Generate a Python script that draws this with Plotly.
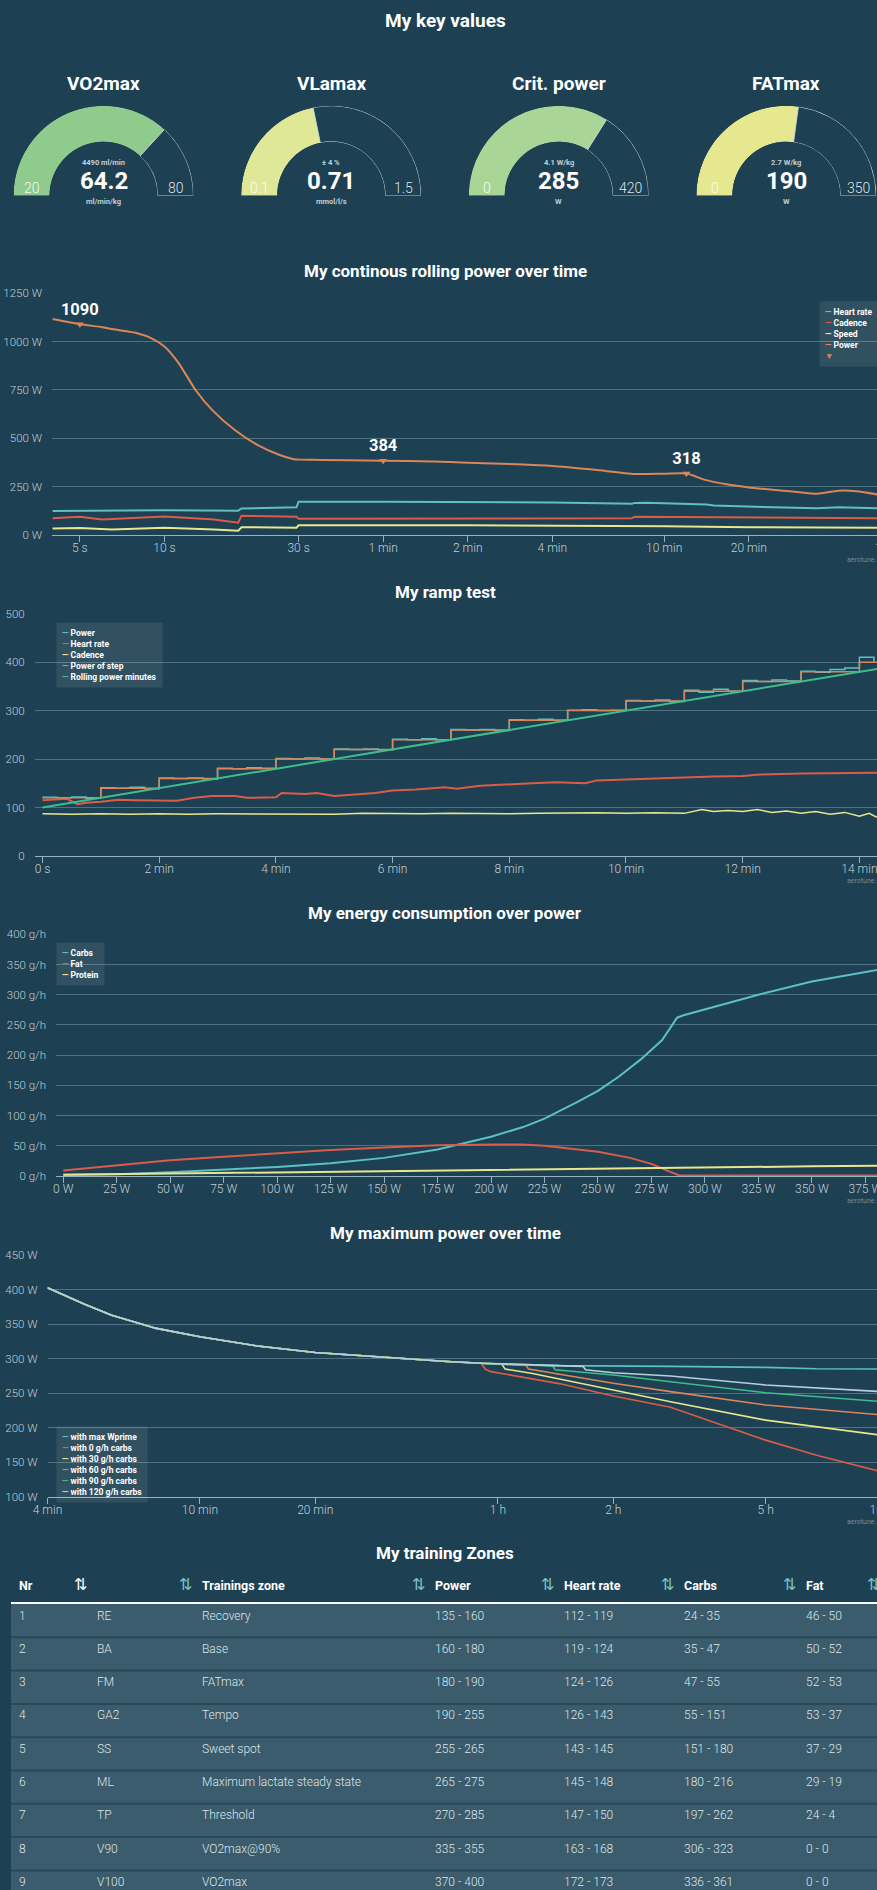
import math
import plotly.graph_objects as go

# ---------------- data ----------------
g_titles = ['VO2max', 'VLamax', 'Crit. power', 'FATmax']
g_values = [64.2, 0.71, 285, 190]
g_value_text = ['64.2', '0.71', '285', '190']
g_min = [20, 0.1, 0, 0]
g_max = [80, 1.5, 420, 350]
g_sub_top = ['4490 ml/min', '± 4 %', '4.1 W/kg', '2.7 W/kg']
g_units = ['ml/min/kg', 'mmol/l/s', 'W', 'W']

roll_pow_t = [4, 5, 6, 7, 8, 9, 10, 11.25, 12.9, 14.8, 17.8, 21.4, 25.7, 29.2, 30, 45,
              60, 90, 120, 180, 240, 340, 470, 600, 720, 840, 1000, 1200, 1600, 2100, 2500, 2900, 3600]
roll_pow_v = [1117, 1090, 1075, 1058, 1043, 1017, 975, 888, 750, 646, 543, 466, 414, 391, 390, 387,
              384, 380, 374, 366, 357, 337, 316, 317, 318, 285, 262, 246, 229, 213, 229, 226, 205]
roll_hr_t = [4, 10, 18.3, 18.8, 29.5, 30, 60, 120, 240, 460, 470, 520, 700, 800, 850, 900, 1200, 2100, 2500, 3600]
roll_hr_v = [124, 128, 126, 137, 143, 172, 172, 171, 168, 161, 165, 167, 163, 161, 158, 152, 147, 138, 143, 138]
roll_cad_t = [4, 5, 6, 8, 10, 15, 18.3, 18.8, 29.5, 30, 460, 470, 650, 1200, 3600]
roll_cad_v = [86, 94, 80, 88, 96, 80, 64, 100, 95, 84, 86, 95, 93, 90, 86]
roll_spd_t = [4, 5, 6.5, 10, 15, 18.3, 18.8, 29.5, 30, 120, 600, 1200, 3600]
roll_spd_v = [34, 36, 29, 38, 29, 22, 40, 38, 50, 50, 45, 40, 38]
peak_t = [5, 60, 720]
peak_v = [1090, 384, 318]
roll_tickvals = [5, 10, 30, 60, 120, 240, 600, 1200, 3600]
roll_ticktext = ['5 s', '10 s', '30 s', '1 min', '2 min', '4 min', '10 min', '20 min', '1 h']

ramp_pow_t = list(range(0, 870, 15))
ramp_pow_v = [121, 120, 122, 119, 141, 140, 142, 139, 161, 160, 161, 159, 181, 180, 182, 181,
              201, 200, 202, 200, 221, 220, 221, 219, 241, 240, 242, 240, 261, 260, 261, 259,
              281, 280, 282, 280, 301, 302, 300, 301, 321, 320, 322, 319, 342, 338, 344, 340,
              362, 360, 363, 361, 381, 379, 385, 388, 410, 401]
ramp_step_t = [0, 60, 120, 180, 240, 300, 360, 420, 480, 540, 600, 660, 720, 780, 840, 870]
ramp_step_v = [120, 140, 160, 180, 200, 220, 240, 260, 280, 300, 320, 340, 360, 380, 400, 400]
ramp_roll_t = [0, 870]
ramp_roll_v = [100, 390]
ramp_hr_t = [0, 25, 36, 45, 60, 78, 96, 120, 138, 156, 174, 198, 210, 240, 246, 270, 282, 300, 318, 342,
             360, 384, 414, 426, 450, 480, 504, 528, 552, 558, 570, 600, 630, 660, 690, 720, 738, 780, 810, 840, 870]
ramp_hr_v = [115, 118, 107, 110, 112, 116, 115, 114, 114, 120, 124, 124, 120, 121, 130, 128, 130, 124, 127, 130,
             135, 137, 142, 139, 145, 147, 150, 152, 150, 150, 156, 158, 161, 162, 164, 165, 168, 170, 171, 172, 172]
ramp_cad_t = [0, 30, 60, 90, 120, 150, 180, 210, 240, 270, 300, 330, 360, 390, 420, 450, 480, 510, 540, 570,
              600, 630, 660, 678, 690, 705, 720, 735, 750, 765, 780, 795, 810, 825, 840, 850, 858]
ramp_cad_v = [87, 86, 87, 86, 87, 86, 87, 87, 86, 87, 86, 88, 87, 87, 88, 87, 87, 88, 89, 89,
              88, 89, 88, 96, 92, 94, 92, 96, 90, 93, 88, 92, 86, 90, 82, 88, 80]
ramp_tickvals = [0, 120, 240, 360, 480, 600, 720, 840]
ramp_ticktext = ['0 s', '2 min', '4 min', '6 min', '8 min', '10 min', '12 min', '14 min']

en_w = [0, 25, 50, 75, 100, 125, 150, 175, 190, 200, 215, 225, 240, 250, 260, 270, 280, 287, 290, 300, 325, 350, 375, 390]
en_carbs = [2, 3, 6, 10, 15, 21, 30, 44, 56, 65, 81, 95, 122, 141, 165, 193, 225, 262, 266, 276, 300, 322, 338, 347]
fat_w = [0, 25, 50, 75, 100, 125, 150, 175, 200, 215, 225, 250, 265, 275, 283, 288, 300, 390]
en_fat = [9, 18, 26, 32, 38, 43, 47, 51, 52, 52, 50, 40, 30, 20, 8, 1, 1, 1]
prot_w = [0, 50, 100, 150, 200, 250, 300, 350, 390]
en_prot = [2, 4, 6, 8, 10, 13, 15, 16, 17]

mp_common_t = [240, 300, 353, 462, 600, 848, 1200, 1894, 2652, 3253]
mp_common_v = [403, 379, 363, 344, 332, 318.5, 309, 301, 296, 293.4]
mp_wprime_t = [3600, 5203, 10160, 18000, 24450, 40000]
mp_wprime_v = [292.6, 290, 289, 287.5, 285.5, 285]
mp_c0_t = [3340, 3450, 5203, 7200, 10160, 18000, 24450, 40000]
mp_c0_v = [284.7, 281.3, 264, 246, 229.6, 182, 160, 130]
mp_c30_t = [3600, 3686, 3760, 4399, 7200, 10160, 18000, 40000]
mp_c30_v = [292.6, 292, 285, 279, 254.7, 237.8, 211, 186]
mp_c60_t = [3600, 4260, 4330, 7200, 10160, 18000, 40000]
mp_c60_v = [292.6, 290.5, 285, 264.4, 252.3, 233, 216.5]
mp_c90_t = [3600, 5000, 5080, 7200, 10160, 18000, 40000]
mp_c90_v = [292.6, 289.7, 284, 276.5, 266.7, 250.8, 236]
mp_c120_t = [3600, 6000, 6100, 7200, 10160, 18000, 40000]
mp_c120_v = [292.6, 289, 284, 279.8, 275, 262, 251]
mp_names = ['with max Wprime', 'with 0 g/h carbs', 'with 30 g/h carbs', 'with 60 g/h carbs',
            'with 90 g/h carbs', 'with 120 g/h carbs']
mp_tickvals = [240, 600, 1200, 3600, 7200, 18000, 36000]
mp_ticktext = ['4 min', '10 min', '20 min', '1 h', '2 h', '5 h', '10 h']

tbl_nr = ['1', '2', '3', '4', '5', '6', '7', '8', '9']
tbl_abbr = ['RE', 'BA', 'FM', 'GA2', 'SS', 'ML', 'TP', 'V90', 'V100']
tbl_zone = ['Recovery', 'Base', 'FATmax', 'Tempo', 'Sweet spot', 'Maximum lactate steady state',
            'Threshold', 'VO2max@90%', 'VO2max']
tbl_power = ['135 - 160', '160 - 180', '180 - 190', '190 - 255', '255 - 265', '265 - 275', '270 - 285', '335 - 355', '370 - 400']
tbl_hr = ['112 - 119', '119 - 124', '124 - 126', '126 - 143', '143 - 145', '145 - 148', '147 - 150', '163 - 168', '172 - 173']
tbl_carbs = ['24 - 35', '35 - 47', '47 - 55', '55 - 151', '151 - 180', '180 - 216', '197 - 262', '306 - 323', '336 - 361']
tbl_fat = ['46 - 50', '50 - 52', '52 - 53', '53 - 37', '37 - 29', '29 - 19', '24 - 4', '0 - 0', '0 - 0']
tbl_headers = ['Nr', '', 'Trainings zone', 'Power', 'Heart rate', 'Carbs', 'Fat']

# ---------------- style ----------------
# the dashboard is wider/taller than the browser window; the window crops it like the reference
W, H = 900, 1905
BG = '#1d4052'
GRID = '#4e7282'
AXIS = '#94b2c0'
TICK = '#c3cfd5'
TEAL = '#5cc0c7'
RED = '#d95d47'
YEL = '#e8e68e'
ORG = '#dc8559'
GRN = '#3dbd8c'
LIGHT = '#b7d0db'
FONT = 'Roboto, sans-serif'
g_colors = ['#8fcb8c', '#dfe896', '#a9d697', '#e6e88f']
g_cx = [103.5, 331.1, 558.7, 786.3]


def fx(p):
    return p / W


def fy(p):
    return 1 - p / H


fig = go.Figure()
ann = []


def text(x, y, s, size, color='white', bold=False, xanchor='center', yanchor='middle', weight=None, **kw):
    f = dict(size=size, color=color, family=FONT)
    if weight:
        f['weight'] = weight
    ann.append(dict(x=fx(x), y=fy(y), xref='paper', yref='paper', showarrow=False,
                    text=('<b>%s</b>' % s) if bold else s, xanchor=xanchor, yanchor=yanchor,
                    font=f, **kw))


# ---------------- gauges ----------------
text(445, 20, 'My key values', 19, bold=True)
R, BASE = 90, 195.7
for i in range(4):
    n = '' if i == 0 else str(i + 1)
    frac = (g_values[i] - g_min[i]) / (g_max[i] - g_min[i])
    ang = frac * 180
    fig.add_trace(go.Barpolar(r=[1], theta=[ang / 2], width=[ang],
                              marker=dict(color=g_colors[i], line=dict(width=0)),
                              subplot='polar' + n, hoverinfo='skip'))
    fig.add_trace(go.Barpolar(r=[1], theta=[(ang + 180) / 2], width=[180 - ang],
                              marker=dict(color='rgba(0,0,0,0)', line=dict(color='#c6d3da', width=1)),
                              subplot='polar' + n, hoverinfo='skip'))
    cx = g_cx[i]
    fig.update_layout(**{'polar' + n: dict(
        domain=dict(x=[fx(cx - R), fx(cx + R)], y=[fy(BASE), fy(BASE - R)]),
        sector=[0, 180], hole=0.6, bgcolor='rgba(0,0,0,0)',
        radialaxis=dict(visible=False, range=[0, 1]),
        angularaxis=dict(visible=False, rotation=180, direction='clockwise'))})
    text(cx, 83, g_titles[i], 19, bold=True)
    text(cx - 71.5, 187.5, str(g_min[i]), 14, color='rgba(255,255,255,0.92)', weight=300)
    text(cx + 72, 187.5, str(g_max[i]), 14, color='rgba(235,242,245,0.95)', weight=300)
    text(cx, 162, g_sub_top[i], 7.5, color='#c3ced4', bold=True)
    text(cx, 181, g_value_text[i], 24, bold=True)
    text(cx, 201.5, g_units[i], 7.5, color='#c3ced4', bold=True)


# ---------------- axes helpers ----------------
def xaxis(dom_left, rng, typ='linear', **kw):
    d = dict(domain=[fx(dom_left), 1], range=rng, type=typ, showgrid=False, zeroline=False,
             showline=True, linecolor=AXIS, linewidth=1, ticks='outside', ticklen=6, tickcolor=AXIS,
             ticklabeloverflow='allow', ticklabelstandoff=-4,
             tickfont=dict(size=12, color=TICK, family=FONT, weight=300), fixedrange=True)
    d.update(kw)
    return d


def yaxis(top, bottom, rng, **kw):
    d = dict(domain=[fy(bottom), fy(top)], range=rng, showgrid=True, gridcolor=GRID, gridwidth=1,
             zeroline=False, showline=False, ticks='', ticklabelstandoff=9,
             tickfont=dict(size=11.5, color=TICK, family=FONT, weight=300), fixedrange=True)
    d.update(kw)
    return d


def legend_box(x, y, items, size=8.5):
    lines = ['<span style="color:%s">%s</span> %s' % (c, sym, name) for name, c, sym in items]
    ann.append(dict(x=fx(x), y=fy(y), xref='paper', yref='paper', showarrow=False, align='left',
                    xanchor='left', yanchor='top', text='<b>' + '<br>'.join(lines) + '</b>',
                    bgcolor='rgba(255,255,255,0.09)', borderpad=5,
                    font=dict(size=size, color='white', family=FONT)))


def watermark(y):
    text(845, y, 'aerotune.com', 7, color='#6f8d9b', xanchor='left')


# ---------------- chart 1: rolling power ----------------
text(445, 271, 'My continous rolling power over time', 17, bold=True)
fig.add_trace(go.Scatter(x=roll_hr_t, y=roll_hr_v, mode='lines', line=dict(color=TEAL, width=2), name='Heart rate'))
fig.add_trace(go.Scatter(x=roll_cad_t, y=roll_cad_v, mode='lines', line=dict(color=RED, width=2), name='Cadence'))
fig.add_trace(go.Scatter(x=roll_spd_t, y=roll_spd_v, mode='lines', line=dict(color=YEL, width=2), name='Speed'))
fig.add_trace(go.Scatter(x=roll_pow_t, y=roll_pow_v, mode='lines',
                         line=dict(color=ORG, width=2, shape='spline', smoothing=0.6), name='Power'))
fig.add_trace(go.Scatter(x=peak_t, y=peak_v, mode='markers+text', text=[str(v) for v in peak_v],
                         textposition='top center', marker=dict(symbol='triangle-down', size=7, color=ORG),
                         textfont=dict(size=16.5, color='white', family=FONT, weight='bold'), name=''))
x1 = xaxis(52, [math.log10(3.98), 0.699 + (W - 80) / 281.0], typ='log',
           tickvals=roll_tickvals, ticktext=roll_ticktext)
y1 = yaxis(293.3, 535, [0, 1250], dtick=250, tick0=0, ticksuffix=' W')
legend_box(819, 301, [('Heart rate', TEAL, '—'), ('Cadence', RED, '—'), ('Speed', YEL, '—'),
                      ('Power', ORG, '—')] + [('', ORG, '▼')])
watermark(560)

# ---------------- chart 2: ramp test ----------------
text(445, 592, 'My ramp test', 17, bold=True)
fig.add_trace(go.Scatter(x=ramp_pow_t, y=ramp_pow_v, mode='lines', line=dict(color=TEAL, width=1.5, shape='hv'),
                         xaxis='x2', yaxis='y2', name='Power'))
fig.add_trace(go.Scatter(x=ramp_hr_t, y=ramp_hr_v, mode='lines', line=dict(color=RED, width=2),
                         xaxis='x2', yaxis='y2', name='Heart rate'))
fig.add_trace(go.Scatter(x=ramp_cad_t, y=ramp_cad_v, mode='lines', line=dict(color=YEL, width=1.5),
                         xaxis='x2', yaxis='y2', name='Cadence'))
fig.add_trace(go.Scatter(x=ramp_step_t, y=ramp_step_v, mode='lines', line=dict(color=ORG, width=1.5, shape='hv'),
                         xaxis='x2', yaxis='y2', name='Power of step'))
fig.add_trace(go.Scatter(x=ramp_roll_t, y=ramp_roll_v, mode='lines', line=dict(color=GRN, width=2),
                         xaxis='x2', yaxis='y2', name='Rolling power minutes'))
x2 = xaxis(34.7, [-8, (W - 42.5) / 0.9725], tickvals=ramp_tickvals, ticktext=ramp_ticktext)
y2 = yaxis(613.7, 856, [0, 500], dtick=100)
legend_box(56, 622, [('Power', TEAL, '—'), ('Heart rate', RED, '—'), ('Cadence', YEL, '—'),
                     ('Power of step', ORG, '—'), ('Rolling power minutes', GRN, '—')])
watermark(881)

# ---------------- chart 3: energy ----------------
text(445, 912.5, 'My energy consumption over power', 17, bold=True)
fig.add_trace(go.Scatter(x=en_w, y=en_carbs, mode='lines', line=dict(color=TEAL, width=2),
                         xaxis='x3', yaxis='y3', name='Carbs'))
fig.add_trace(go.Scatter(x=fat_w, y=en_fat, mode='lines', line=dict(color=RED, width=2),
                         xaxis='x3', yaxis='y3', name='Fat'))
fig.add_trace(go.Scatter(x=prot_w, y=en_prot, mode='lines', line=dict(color=YEL, width=2),
                         xaxis='x3', yaxis='y3', name='Protein'))
x3 = xaxis(56, [-3.4, (W - 63.2) / 2.139], dtick=25, tick0=0, ticksuffix=' W')
y3 = yaxis(934.3, 1176, [0, 400], dtick=50, ticksuffix=' g/h')
legend_box(56, 942, [('Carbs', TEAL, '—'), ('Fat', RED, '—'), ('Protein', YEL, '—')])
watermark(1201)

# ---------------- chart 4: max power ----------------
text(445, 1233, 'My maximum power over time', 17, bold=True)
mp_colors = [TEAL, RED, YEL, ORG, GRN, LIGHT]
branches = [(mp_wprime_t, mp_wprime_v), (mp_c0_t, mp_c0_v), (mp_c30_t, mp_c30_v),
            (mp_c60_t, mp_c60_v), (mp_c90_t, mp_c90_v), (mp_c120_t, mp_c120_v)]
for k, (bt, bv) in enumerate(branches):
    ct = [t for t in mp_common_t if t < bt[0]]
    cv = mp_common_v[:len(ct)]
    fig.add_trace(go.Scatter(x=ct + bt, y=cv + bv, mode='lines', line=dict(color=mp_colors[k], width=1.6),
                             xaxis='x4', yaxis='y4', name=mp_names[k]))
x4 = xaxis(47.5, [math.log10(240), math.log10(240) + (W - 47.5) / 383.0], typ='log',
           tickvals=mp_tickvals, ticktext=mp_ticktext)
y4 = yaxis(1255.3, 1496.7, [100, 450], dtick=50, ticksuffix=' W')
legend_box(56, 1426, [(mp_names[k], mp_colors[k], '—') for k in range(6)])
watermark(1522)

# ---------------- table ----------------
text(445, 1553, 'My training Zones', 17, bold=True)
ICON = '⇅'
hdr_vals, hdr_cols, hdr_sizes, cell_vals, widths, aligns = [], [], [], [], [], []
cols = [tbl_nr, tbl_abbr, tbl_zone, tbl_power, tbl_hr, tbl_carbs, tbl_fat]
col_w = [61, 88, 216, 112, 103, 105, 67]
for j, col in enumerate(cols):
    hdr_vals += ['<b>%s</b>' % tbl_headers[j], ICON]
    hdr_cols += ['white', 'white' if j == 0 else '#7cc3c3']
    hdr_sizes += [12.5, 16]
    cell_vals += [col, [''] * len(col)]
    widths += [col_w[j], 17]
    aligns += ['left', 'center']
hdr_vals.append('')
hdr_cols.append('white')
hdr_sizes.append(12.5)
cell_vals.append([''] * len(tbl_nr))
widths.append(W - 11 - sum(widths))
aligns.append('left')
CELL = '#3b5c6c'
fig.add_trace(go.Table(
    domain=dict(x=[fx(11), 1], y=[0, fy(1569.5)]),
    columnwidth=widths,
    header=dict(values=hdr_vals, fill_color=BG, line=dict(color=BG, width=1), height=33,
                align=aligns, font=dict(size=hdr_sizes, color=hdr_cols, family=FONT)),
    cells=dict(values=cell_vals, fill_color=CELL, line=dict(color=CELL, width=1), height=33.3,
               align='left', font=dict(size=12, color='#dde6ea', family=FONT, weight=300))))
shapes = [dict(type='line', xref='paper', yref='paper', x0=fx(11), x1=1, y0=fy(1603), y1=fy(1603),
               line=dict(color='white', width=2))]
for k in range(1, 9):
    yy = 1604 + k * 33.3
    shapes.append(dict(type='line', xref='paper', yref='paper', x0=fx(11), x1=1, y0=fy(yy), y1=fy(yy),
                       line=dict(color='#2a4858', width=2)))

fig.update_layout(
    width=W, height=H, margin=dict(l=0, r=0, t=0, b=0, autoexpand=False),
    paper_bgcolor=BG, plot_bgcolor=BG, showlegend=False,
    font=dict(family=FONT, color='white'),
    xaxis=dict(x1, anchor='y'), yaxis=dict(y1, anchor='x'),
    xaxis2=dict(x2, anchor='y2'), yaxis2=dict(y2, anchor='x2'),
    xaxis3=dict(x3, anchor='y3'), yaxis3=dict(y3, anchor='x3'),
    xaxis4=dict(x4, anchor='y4'), yaxis4=dict(y4, anchor='x4'),
    annotations=ann, shapes=shapes, hovermode=False)

page_css = ("document.documentElement.style.overflow='hidden';"
            "document.body.style.margin='0';document.body.style.overflow='hidden';"
            "document.body.style.background='%s';" % BG)
fig.write_html('out.html', post_script=page_css, config={'displayModeBar': False})
